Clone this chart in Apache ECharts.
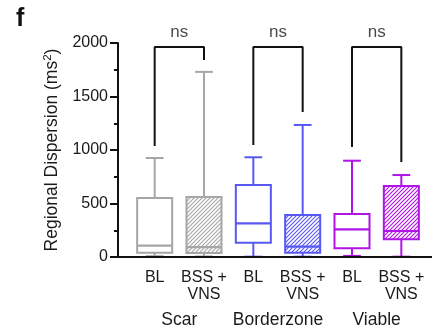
<!DOCTYPE html>
<html>
<head>
<meta charset="utf-8">
<script src="https://cdn.jsdelivr.net/npm/echarts@6/dist/echarts.min.js"></script>
<style>
  html, body { margin: 0; padding: 0; background: #fff; }
  #chart { width: 432px; height: 335px; }
</style>
</head>
<body>
<div id="chart"></div>
<script>
// categories along the x axis
const categories = ["BL", "BSS +\nVNS", "BL", "BSS +\nVNS", "BL", "BSS +\nVNS"];
const groups = ["Scar", "Borderzone", "Viable"];
// [min, Q1, median, Q3, max]
const scarBL = [8, 40, 106, 551, 925];
const scarBSS = [5, 37, 93, 560, 1730];
const borderBL = [3, 134, 315, 673, 932];
const borderBSS = [3, 40, 97, 393, 1234];
const viableBL = [10, 81, 258, 402, 900];
const viableBSS = [3, 165, 243, 664, 766];
const boxes = [scarBL, scarBSS, borderBL, borderBSS, viableBL, viableBSS];
// significance brackets: [left leg bottom, right leg bottom], shared top
const bracketTop = 1963;
const bracketLegs = [[1037, 1841], [1047, 1355], [1028, 888]];
const bracketText = ["ns", "ns", "ns"];
const nsHeight = 2103;
const yTicks = [0, 500, 1000, 1500, 2000];

const colors = ["#a6a6a6", "#5858f4", "#b014e6"];
const font = "'Liberation Sans', Arial, sans-serif";

function hatch(color) {
  const s = 4;
  const c = document.createElement("canvas");
  c.width = s; c.height = s;
  const ctx = c.getContext("2d");
  ctx.fillStyle = "#fff";
  ctx.fillRect(0, 0, s, s);
  ctx.strokeStyle = color;
  ctx.lineWidth = 1.1;
  ctx.beginPath();
  ctx.moveTo(0, s); ctx.lineTo(s, 0);
  ctx.moveTo(-1, 1); ctx.lineTo(1, -1);
  ctx.moveTo(s - 1, s + 1); ctx.lineTo(s + 1, s - 1);
  ctx.stroke();
  return c;
}
const patterns = colors.map(hatch);

const chart = echarts.init(document.getElementById("chart"), null, { renderer: "canvas" });

function renderBox(params, api) {
  const i = api.value(0);
  const p = [1, 2, 3, 4, 5].map(k => api.coord([i, api.value(k)]));
  const cx = p[0][0];
  const band = api.size([1, 0])[0];
  const half = band * 0.355, cap = band * 0.18;
  const g = Math.floor(params.dataIndex / 2);
  const hatched = params.dataIndex % 2 === 1;
  const color = colors[g];
  const ls = { stroke: color, lineWidth: 2 };
  return {
    type: "group",
    children: [
      { type: "line", shape: { x1: cx, y1: p[3][1], x2: cx, y2: p[4][1] }, style: ls },
      { type: "line", shape: { x1: cx - cap, y1: p[4][1], x2: cx + cap, y2: p[4][1] }, style: ls },
      { type: "line", shape: { x1: cx, y1: p[1][1], x2: cx, y2: p[0][1] }, style: ls },
      { type: "line", shape: { x1: cx - cap, y1: p[0][1], x2: cx + cap, y2: p[0][1] }, style: ls },
      {
        type: "rect",
        shape: { x: cx - half, y: p[3][1], width: half * 2, height: p[1][1] - p[3][1] },
        style: {
          fill: hatched ? { image: patterns[g], repeat: "repeat" } : "#fff",
          stroke: color, lineWidth: 2
        }
      },
      { type: "line", shape: { x1: cx - half, y1: p[2][1], x2: cx + half, y2: p[2][1] }, style: { stroke: color, lineWidth: 2.2 } }
    ]
  };
}

const bracketSeries = bracketLegs.map((legs, k) => ({
  type: "line",
  xAxisIndex: 0,
  symbol: "none",
  silent: true,
  lineStyle: { color: "#111", width: 2 },
  data: [[2 * k, legs[0]], [2 * k, bracketTop], [2 * k + 1, bracketTop], [2 * k + 1, legs[1]]],
  z: 3
}));

const option = {
  animation: false,
  title: {
    text: "f", left: 11, top: 2,
    textStyle: { fontFamily: font, fontSize: 25, fontWeight: "bold", color: "#111" }
  },
  grid: { left: 130, right: 6, top: 43, bottom: 78 },
  xAxis: [
    {
      type: "category",
      data: categories,
      axisLine: { show: false },
      axisTick: { show: false },
      axisLabel: { color: "#1a1a1a", fontFamily: font, fontSize: 16, margin: 12, lineHeight: 17, interval: 0 }
    },
    {
      type: "category",
      data: groups,
      position: "bottom",
      axisLine: { show: false },
      axisTick: { show: false },
      axisLabel: { color: "#1a1a1a", fontFamily: font, fontSize: 17.5, margin: 54, interval: 0 }
    }
  ],
  yAxis: {
    type: "value",
    min: yTicks[0],
    max: yTicks[yTicks.length - 1],
    interval: 500,
    offset: 12,
    name: "Regional Dispersion (ms{sup|2})",
    nameLocation: "middle",
    nameGap: 40,
    nameTextStyle: {
      color: "#1a1a1a", fontFamily: font, fontSize: 17.5,
      rich: { sup: { fontSize: 11.5, verticalAlign: "top", padding: [0, 0, 9, 0], fontFamily: font, color: "#1a1a1a" } }
    },
    splitLine: { show: false },
    axisLine: { show: true, lineStyle: { color: "#111", width: 2 } },
    axisTick: { show: true, length: 8, lineStyle: { color: "#111", width: 2 } },
    minorTick: { show: true, splitNumber: 2, length: 4, lineStyle: { color: "#111", width: 2 } },
    axisLabel: { color: "#1a1a1a", fontFamily: font, fontSize: 16, margin: 10, formatter: v => String(v) }
  },
  series: [
    {
      type: "custom",
      renderItem: renderBox,
      encode: { x: 0, y: [1, 2, 3, 4, 5] },
      data: boxes.map((b, i) => [i].concat(b)),
      z: 2
    },
    ...bracketSeries,
    {
      type: "scatter",
      xAxisIndex: 1,
      symbolSize: 0,
      clip: false,
      silent: true,
      label: {
        show: true, position: "inside", formatter: p => bracketText[p.dataIndex],
        color: "#1a1a1a", fontFamily: font, fontSize: 17
      },
      data: groups.map((g, k) => [k, nsHeight])
    }
  ]
};
chart.setOption(option);

// baseline runs from the y axis line to the right edge
const y0 = chart.convertToPixel({ yAxisIndex: 0 }, 0);
chart.setOption({
  graphic: [{
    type: "line",
    shape: { x1: 117, y1: y0, x2: 432, y2: y0 },
    style: { stroke: "#111", lineWidth: 2 },
    z: 10
  }]
});
</script>
</body>
</html>
